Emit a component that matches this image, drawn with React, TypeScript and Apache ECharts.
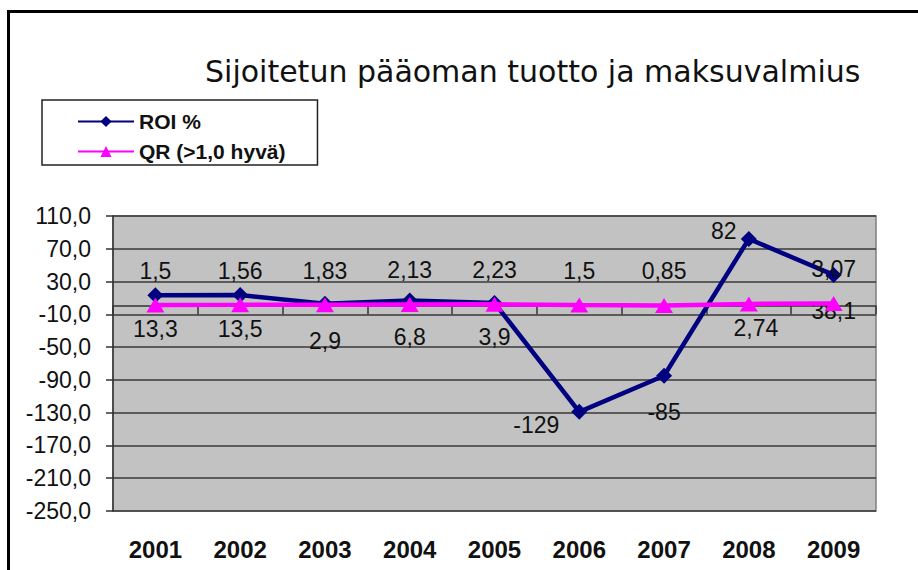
import React, { useEffect, useRef } from "react";
import * as echarts from "echarts";

const years = ["2001", "2002", "2003", "2004", "2005", "2006", "2007", "2008", "2009"];
const roiValues = [13.3, 13.5, 2.9, 6.8, 3.9, -129, -85, 82, 38.1];
const qrValues = [1.5, 1.56, 1.83, 2.13, 2.23, 1.5, 0.85, 2.74, 3.07];
const yTicks = [-250, -210, -170, -130, -90, -50, -10, 30, 70, 110];
const titleText = "Sijoitetun pääoman tuotto ja maksuvalmius";
const seriesNames = ["ROI %", "QR (>1,0 hyvä)"];

// label placement (style only)
const roiLabelOffsets = [
  [0, 34], [0, 34], [0, 37], [0, 36], [0, 34], [-43, 13], [0, 36], [-25, -8], [0, 36],
];
const qrLabelOffsets = [
  [0, -34], [0, -34], [0, -34], [0, -34], [0, -34], [0, -34], [0, -34], [7, 24], [0, -35],
];

const FONT = "'Liberation Sans', Arial, sans-serif";
const fmt = (v: number) => String(v).replace(".", ",");

export default function App() {
  const ref = useRef<HTMLDivElement>(null);
  useEffect(() => {
    if (!ref.current) return;
    const chart = echarts.init(ref.current, undefined, { renderer: "svg" });
    const labelBase = {
      show: true,
      position: "inside",
      fontFamily: FONT,
      fontSize: 23,
      color: "#111",
      formatter: (p: any) => fmt(p.value),
    };
    chart.setOption({
      animation: false,
      backgroundColor: "#ffffff",
      title: {
        text: titleText,
        left: 205,
        top: 56,
        padding: 0,
        textStyle: {
          fontFamily: "'DejaVu Sans', sans-serif",
          fontSize: 30,
          fontWeight: "normal",
          color: "#111",
        },
      },
      legend: {
        data: seriesNames,
        orient: "vertical",
        left: 42,
        top: 100,
        itemWidth: 56,
        itemHeight: 14,
        itemGap: 9,
        padding: [11, 32, 3, 35],
        borderColor: "#222",
        borderWidth: 1.5,
        backgroundColor: "#fff",
        textStyle: { fontFamily: FONT, fontWeight: "bold", fontSize: 21, color: "#111" },
      },
      grid: {
        left: 113,
        right: 42,
        top: 216,
        bottom: 59,
        show: true,
        backgroundColor: "#c2c2c2",
        borderColor: "#7f7f7f",
        borderWidth: 1.5,
      },
      xAxis: [
        {
          type: "category",
          data: years,
          position: "bottom",
          boundaryGap: true,
          axisLine: { show: false, onZero: false },
          axisTick: { show: false },
          splitLine: { show: false },
          axisLabel: {
            fontFamily: FONT,
            fontSize: 24,
            fontWeight: "bold",
            color: "#111",
            margin: 26,
          },
        },
        {
          type: "category",
          data: years,
          position: "top",
          boundaryGap: true,
          axisLine: { show: true, onZero: true, lineStyle: { color: "#333", width: 1.5 } },
          axisTick: { show: true, inside: true, length: 8, lineStyle: { color: "#333", width: 1.5 } },
          axisLabel: { show: false },
          splitLine: { show: false },
        },
      ],
      yAxis: {
        type: "value",
        min: -250,
        max: 110,
        axisLine: { show: true, lineStyle: { color: "#333", width: 1.5 } },
        axisTick: { show: true, length: 7, customValues: yTicks, lineStyle: { color: "#333", width: 1.5 } },
        axisLabel: {
          customValues: yTicks,
          formatter: (v: number) => v.toFixed(1).replace(".", ","),
          fontFamily: FONT,
          fontSize: 23,
          color: "#111",
          margin: 22,
        },
        splitLine: { show: true, lineStyle: { color: "#383838", width: 1.5 } },
      },
      graphic: [
        {
          type: "rect",
          shape: { x: 8.5, y: 11.5, width: 1000, height: 1000 },
          style: { fill: "none", stroke: "#000", lineWidth: 3 },
          silent: true,
        },
      ],
      series: [
        {
          name: seriesNames[0],
          type: "line",
          xAxisIndex: 0,
          color: "#000080",
          lineStyle: { width: 4.5, color: "#000080" },
          itemStyle: { color: "#000080" },
          symbol: "diamond",
          symbolSize: [16, 16],
          label: labelBase,
          data: roiValues.map((v, i) => ({ value: v, label: { offset: roiLabelOffsets[i] } })),
          z: 3,
        },
        {
          name: seriesNames[1],
          type: "line",
          xAxisIndex: 0,
          color: "#ff00ff",
          lineStyle: { width: 4.5, color: "#ff00ff" },
          itemStyle: { color: "#ff00ff" },
          symbol: "triangle",
          symbolSize: [18, 15],
          label: labelBase,
          data: qrValues.map((v, i) => ({ value: v, label: { offset: qrLabelOffsets[i] } })),
          z: 4,
        },
      ],
    });
    return () => chart.dispose();
  }, []);
  return (
    <div
      ref={ref}
      style={{ position: "fixed", left: 0, top: 0, width: 918, height: 570, background: "#fff" }}
    />
  );
}
